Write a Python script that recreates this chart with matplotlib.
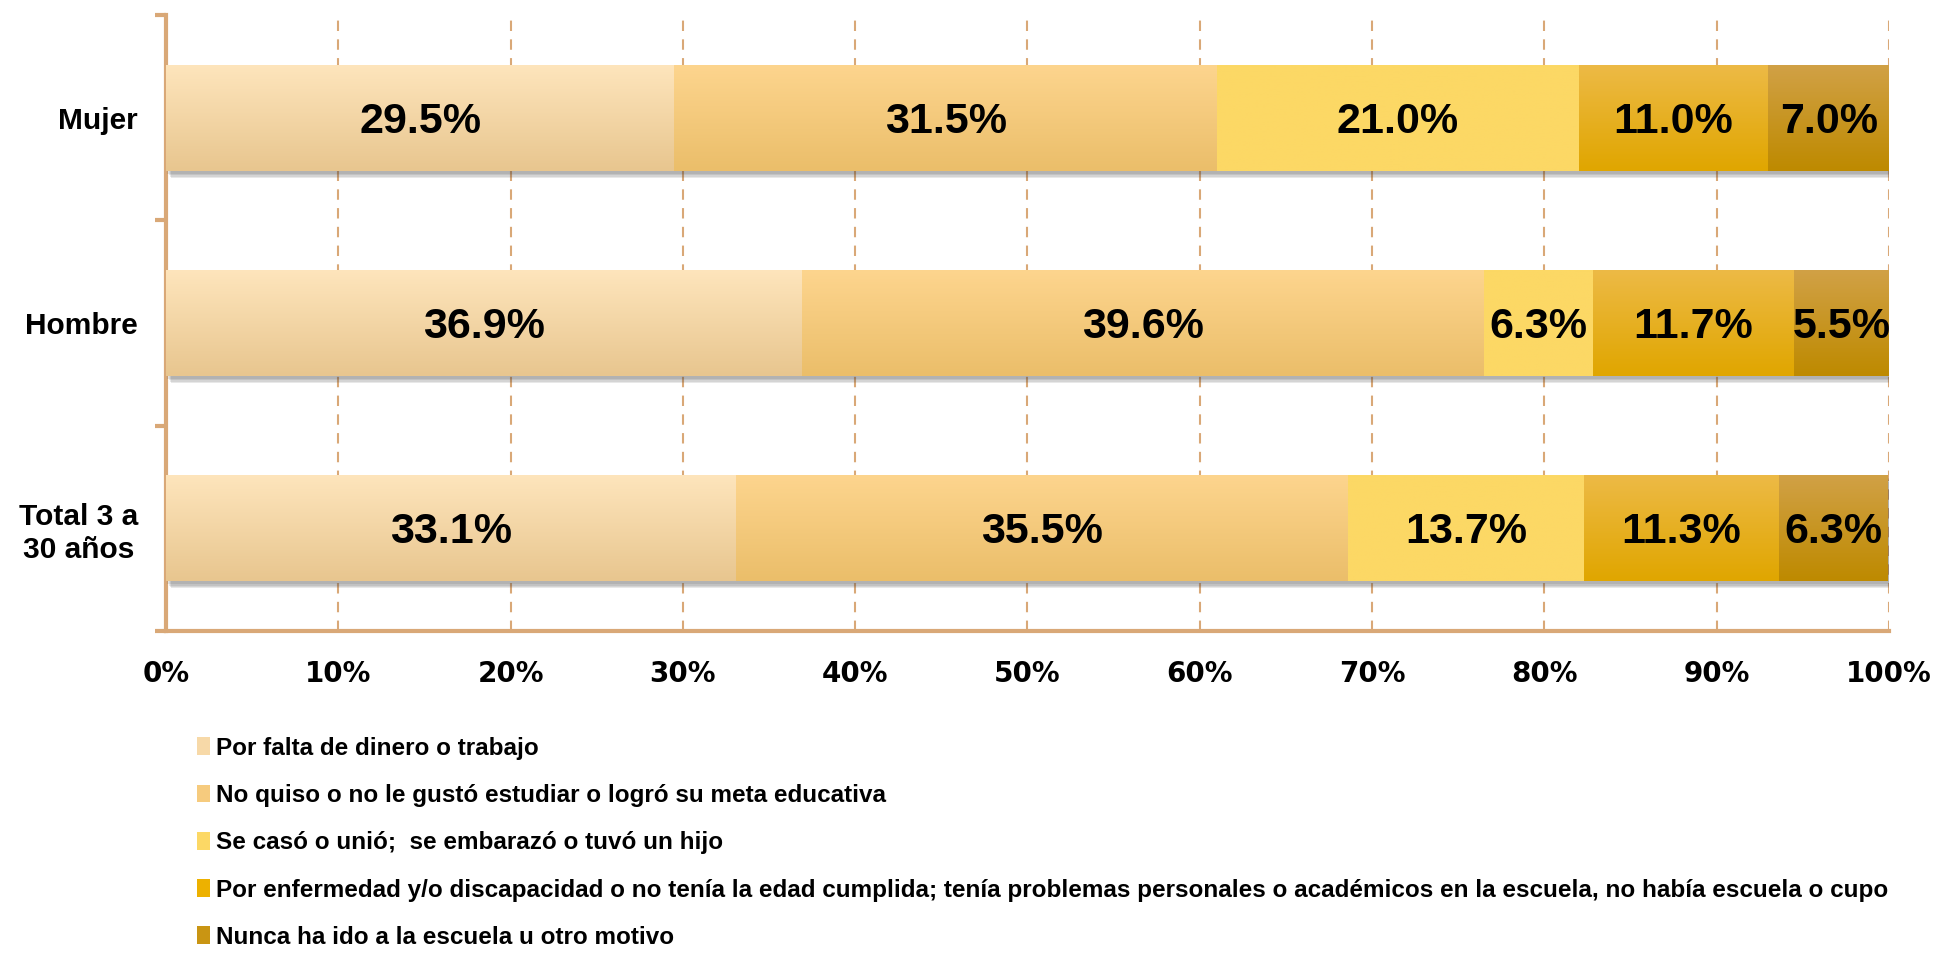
import numpy as np
import matplotlib
matplotlib.use('Agg')
import matplotlib.pyplot as plt
import matplotlib.patheffects as pe
from matplotlib.colors import LinearSegmentedColormap

# datos (de abajo hacia arriba)
categorias = ['Total 3 a\n30 años', 'Hombre', 'Mujer']
series = [
    'Por falta de dinero o trabajo',
    'No quiso o no le gustó estudiar o logró su meta educativa',
    'Se casó o unió;  se embarazó o tuvó un hijo',
    'Por enfermedad y/o discapacidad o no tenía la edad cumplida; tenía problemas personales o académicos en la escuela, no había escuela o cupo',
    'Nunca ha ido a la escuela u otro motivo',
]
falta_dinero = [33.1, 36.9, 29.5]
no_quiso = [35.5, 39.6, 31.5]
se_caso = [13.7, 6.3, 21.0]
enfermedad = [11.3, 11.7, 11.0]
nunca = [6.3, 5.5, 7.0]
valores = [falta_dinero, no_quiso, se_caso, enfermedad, nunca]
ticks_x = [0, 10, 20, 30, 40, 50, 60, 70, 80, 90, 100]

# colores: (arriba, abajo) del degradado
col_top = ['#FEE5BC', '#FDD58E', '#FCD865', '#EDBA46', '#D1A146']
col_bot = ['#E8C68F', '#EBBE6A', '#FCD865', '#E0A600', '#BE8A00']
col_mid = ['#F7D9A8', '#F6CB7E', '#FCD865', '#EDB100', '#C99513']
eje = '#D9A877'

fig = plt.figure(figsize=(19.36, 9.57), dpi=100)
ax = fig.add_axes([0.0857, 0.341, 0.89, 0.643])

sombra = [pe.SimplePatchShadow(offset=(k, -k - 1), shadow_rgbFace='#444444', alpha=0.12)
          for k in (4, 3, 2, 1)] + [pe.Normal()]

y = np.arange(len(categorias))
izq = np.zeros(len(categorias))
alto = 0.52
for i, vals in enumerate(valores):
    bars = ax.barh(y, vals, left=izq, height=alto, color=col_mid[i],
                   label=series[i], zorder=3)
    cmap = LinearSegmentedColormap.from_list('g%d' % i, [col_bot[i], col_top[i]])
    for r in bars:
        r.set_path_effects(sombra)
        x0, y0, w, h = r.get_x(), r.get_y(), r.get_width(), r.get_height()
        im = ax.imshow(np.linspace(0, 1, 64).reshape(-1, 1), extent=[x0, x0 + w, y0, y0 + h],
                       origin='lower', cmap=cmap, aspect='auto', zorder=3.5)
        im.set_clip_path(r)
    labs = ax.bar_label(bars, labels=['%.1f%%' % v for v in vals], label_type='center',
                        fontsize=31, fontweight='bold', family='Liberation Sans')
    for t in labs:
        t.set_zorder(5)
        t.xyann = (0, -3)
    izq = izq + np.array(vals)

ax.set_xlim(0, 100)
ax.set_ylim(-0.5, 2.5)
ax.set_xticks(ticks_x)
ax.set_xticklabels(['%d%%' % t for t in ticks_x], fontsize=20, fontweight='bold', family='DejaVu Sans')
ax.tick_params(axis='x', length=0, pad=21)
ax.set_yticks(y)
ax.set_yticklabels(categorias, fontsize=21.5, fontweight='bold', family='Liberation Sans',
                   multialignment='center')
ax.tick_params(axis='y', which='major', length=0, pad=20)
ax.set_yticks([-0.5, 0.5, 1.5, 2.5], minor=True)
ax.tick_params(axis='y', which='minor', length=8, width=3, color=eje, direction='out')

ax.grid(axis='x', color=eje, linestyle=(0, (5, 4)), linewidth=1.5, zorder=0)
ax.set_axisbelow(True)
for s in ['top', 'right']:
    ax.spines[s].set_visible(False)
for s in ['left', 'bottom']:
    ax.spines[s].set_color(eje)
    ax.spines[s].set_linewidth(3)

h, l = ax.get_legend_handles_labels()
leg = fig.legend(h, l, loc='upper left', bbox_to_anchor=(0.0955, 0.243), frameon=False,
                 prop={'family': 'Liberation Sans', 'weight': 'bold', 'size': 17.5},
                 handlelength=0.55, handleheight=0.75, handletextpad=0.25, labelspacing=1.0,
                 borderpad=0)
for p, c in zip(leg.get_patches(), col_mid):
    p.set_facecolor(c)
    p.set_path_effects([])

fig.savefig('out.png', dpi=100)
